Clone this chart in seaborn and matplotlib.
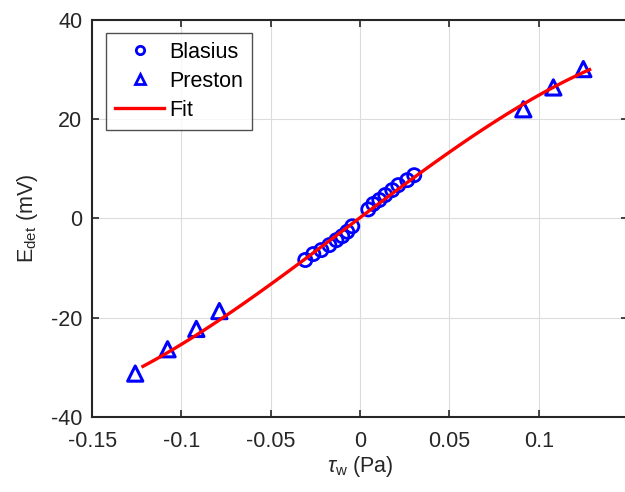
import matplotlib
matplotlib.use("Agg")
import matplotlib.pyplot as plt
import seaborn as sns
import pandas as pd
from matplotlib.lines import Line2D

# Data
blasius_tau = [-0.0307, -0.0262, -0.0217, -0.0172, -0.0133, -0.0100, -0.0072, -0.0044,
               0.0046, 0.0074, 0.0108, 0.0141, 0.0180, 0.0214, 0.0264, 0.0303]
blasius_E = [-8.4, -7.2, -6.4, -5.4, -4.4, -3.6, -2.7, -1.6,
             1.8, 2.9, 3.7, 4.7, 5.7, 6.7, 7.7, 8.7]
preston_tau = [-0.1259, -0.1078, -0.0917, -0.0788, 0.0914, 0.1082, 0.1250]
preston_E = [-31.3, -26.4, -22.3, -18.7, 22.0, 26.4, 30.1]
fit_tau = [-0.1216, -0.1, -0.05, 0.0, 0.05, 0.1, 0.1285]
fit_E = [-30.0, -25.2, -13.2, 0.0, 13.2, 25.2, 29.8]
xticks = [-0.15, -0.1, -0.05, 0, 0.05, 0.1]
xtick_labels = ["-0.15", "-0.1", "-0.05", "0", "0.05", "0.1"]
yticks = [-40, -20, 0, 20, 40]

plt.rcParams['font.family'] = ['Liberation Sans', 'DejaVu Sans']
plt.rcParams['mathtext.fontset'] = 'custom'
plt.rcParams['mathtext.rm'] = 'Liberation Sans'
plt.rcParams['mathtext.it'] = 'Liberation Sans:italic'
plt.rcParams['axes.unicode_minus'] = False

FS = 15.5
INK = '#262626'

df_b = pd.DataFrame({"tau": blasius_tau, "E": blasius_E})
df_p = pd.DataFrame({"tau": preston_tau, "E": preston_E})
df_f = pd.DataFrame({"tau": fit_tau, "E": fit_E})

fig = plt.figure(figsize=(6.25, 4.92), dpi=100)
ax = fig.add_axes([92.2/625, 75.3/492, (628-92.2)/625, (416.7-20)/492])

sns.regplot(data=df_f, x="tau", y="E", ax=ax, order=3, ci=None, scatter=False,
            truncate=True, line_kws=dict(color=(1, 0, 0), linewidth=2.4, zorder=3))
sns.scatterplot(data=df_b, x="tau", y="E", ax=ax, marker='o', s=90,
                facecolor='none', edgecolor=(0, 0, 1), linewidth=2.0, zorder=2)
sns.scatterplot(data=df_p, x="tau", y="E", ax=ax, marker='^', s=120,
                facecolor='none', edgecolor=(0, 0, 1), linewidth=2.2, zorder=2)

ax.set_xlim(-0.15, 0.15)
ax.set_ylim(-40, 40)
ax.set_xticks(xticks)
ax.set_xticklabels(xtick_labels)
ax.set_yticks(yticks)
ax.grid(True, color='#dcdcdc', linewidth=0.8)
ax.set_axisbelow(True)
ax.tick_params(direction='in', length=5, width=1.2, labelsize=FS, colors=INK,
               top=True, right=True)
ax.tick_params(axis='x', pad=10)
ax.tick_params(axis='y', pad=7)
for sp in ax.spines.values():
    sp.set_linewidth(1.5)
    sp.set_color(INK)

ax.set_xlabel(r'$\tau_{\mathrm{w}}$ (Pa)', fontsize=FS, color=INK, labelpad=2)
ax.set_ylabel(r'E$_{\mathrm{det}}$ (mV)', fontsize=FS, color=INK, labelpad=8)

handles = [
    Line2D([], [], marker='o', linestyle='none', markerfacecolor='none',
           markeredgecolor=(0, 0, 1), markeredgewidth=2.0, markersize=6),
    Line2D([], [], marker='^', linestyle='none', markerfacecolor='none',
           markeredgecolor=(0, 0, 1), markeredgewidth=2.0, markersize=7),
    Line2D([], [], color=(1, 0, 0), linewidth=2.4),
]
leg = ax.legend(handles, ["Blasius", "Preston", "Fit"], loc='upper left',
                bbox_to_anchor=(14/535.8, 1 - 13/396.7), fontsize=FS,
                frameon=True, fancybox=False, edgecolor=INK,
                handlelength=2.3, handletextpad=0.25, borderpad=0.4,
                labelspacing=0.38, borderaxespad=0)
leg.get_frame().set_linewidth(1.0)

fig.savefig("out.png", dpi=100)
